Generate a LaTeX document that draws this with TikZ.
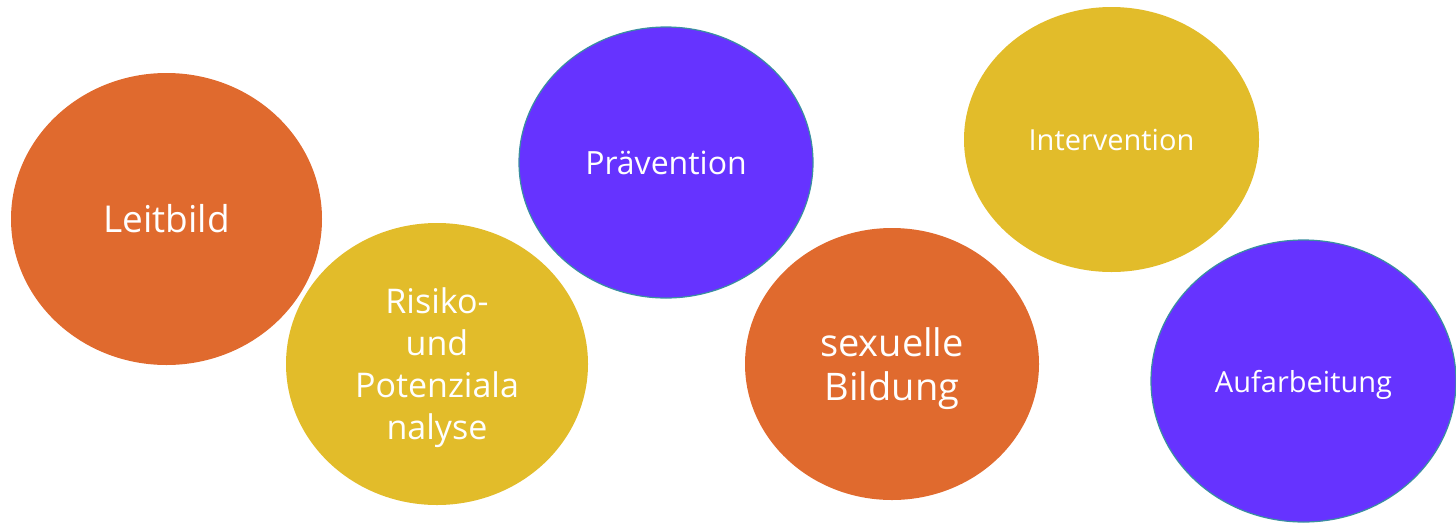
\documentclass[tikz,border=0pt]{standalone}
\usepackage{fontspec}
\setmainfont{Open Sans}
\usetikzlibrary{shapes.geometric}
\definecolor{corange}{HTML}{E06A2E}
\definecolor{cyellow}{HTML}{E2BC2A}
\definecolor{cpurple}{HTML}{6633FF}
\definecolor{cteal}{HTML}{3A8FA0}
\definecolor{ctext}{HTML}{FFFFFF}
\tikzset{
  bubble/.style={ellipse, inner sep=0pt, text=ctext, align=center, draw=none},
  orangeb/.style={bubble, fill=corange},
  yellowb/.style={bubble, fill=cyellow},
  purpleb/.style={bubble, fill=cpurple, draw=cteal, line width=1.2pt},
}
\begin{document}
\begin{tikzpicture}[x=1pt,y=-1pt]
\useasboundingbox (0,0) rectangle (1456,523);
\node[orangeb, minimum width=311pt, minimum height=292pt, font=\fontsize{37}{46}\selectfont] (leit) at (166.5,219) {Leitbild};
\node[yellowb, minimum width=302pt, minimum height=282pt, text depth=0pt, font=\fontsize{34}{42}\selectfont] (risk) at (437,364) {Risiko-\\und\\Potenziala\\nalyse};
\node[purpleb, minimum width=294pt, minimum height=271pt, font=\fontsize{32}{40}\selectfont] (prae) at (666,162.5) {Prävention};
\node[orangeb, minimum width=294pt, minimum height=272pt, text depth=0pt, font=\fontsize{38}{44}\selectfont] (sex) at (892,364) {sexuelle\\Bildung};
\node[yellowb, minimum width=295pt, minimum height=265pt, font=\fontsize{29}{36}\selectfont] (inter) at (1111.5,139.5) {Intervention};
\node[purpleb, minimum width=305pt, minimum height=282pt, text depth=0pt, font=\fontsize{29}{36}\selectfont] (auf) at (1303.5,381) {Aufarbeitung};
\end{tikzpicture}
\end{document}
